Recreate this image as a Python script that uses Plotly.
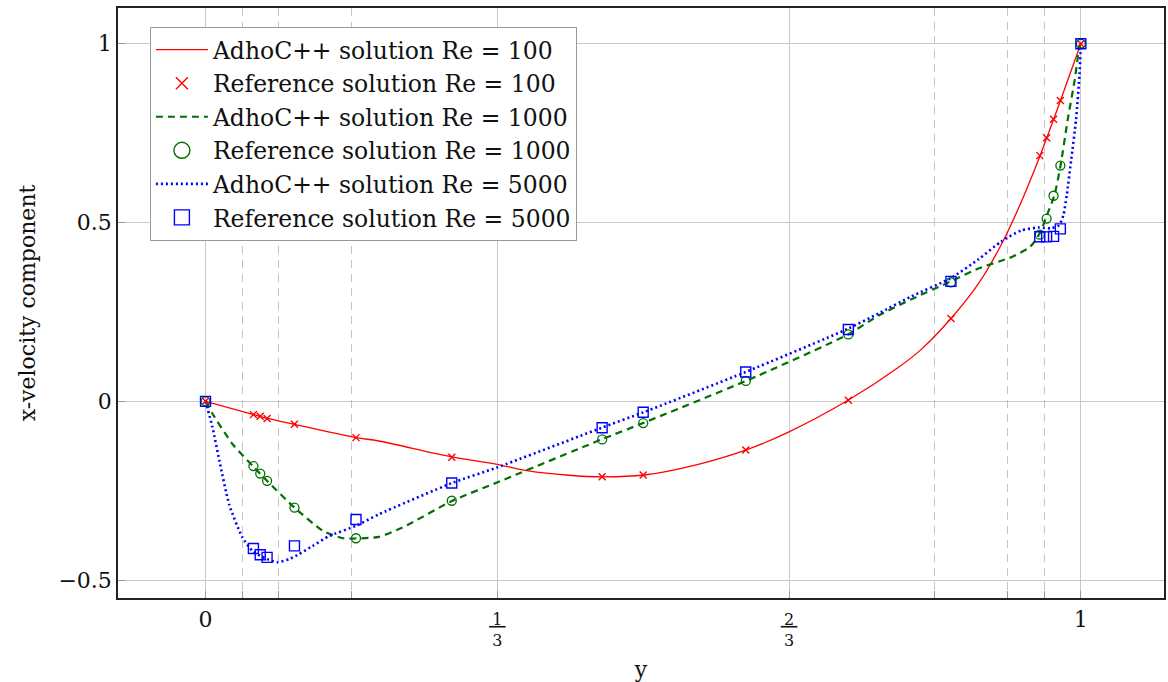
import plotly.graph_objects as go

# ---------------- data ----------------
# Reference solution (Ghia et al.) sample positions along the vertical centre line
y_ref = [0.0, 0.0547, 0.0625, 0.0703, 0.1016, 0.1719, 0.2813, 0.4531, 0.5,
         0.6172, 0.7344, 0.8516, 0.9531, 0.9609, 0.9688, 0.9766, 1.0]
u_ref_100 = [0.0, -0.03717, -0.04192, -0.04775, -0.06434, -0.10150, -0.15662,
             -0.21090, -0.20581, -0.13641, 0.00332, 0.23151, 0.68717, 0.73722,
             0.78871, 0.84123, 1.0]
u_ref_1000 = [0.0, -0.18109, -0.20196, -0.22220, -0.29730, -0.38289, -0.27805,
              -0.10648, -0.06080, 0.05702, 0.18719, 0.33304, 0.46604, 0.51117,
              0.57492, 0.65928, 1.0]
u_ref_5000 = [0.0, -0.41165, -0.42901, -0.43643, -0.40435, -0.33050, -0.22855,
              -0.07404, -0.03039, 0.08183, 0.20087, 0.33556, 0.46036, 0.45992,
              0.46120, 0.48223, 1.0]

# AdhoC++ solutions
sim_x_100 = [0, 0.054, 0.071, 0.1015, 0.172, 0.198, 0.282, 0.333, 0.369, 0.415,
             0.453, 0.501, 0.563, 0.617, 0.666, 0.734, 0.791, 0.818, 0.8516,
             0.883, 0.909, 0.930, 0.9531, 0.9609, 0.9688, 0.9766, 0.987, 1.0]
sim_u_100 = [0, -0.0363, -0.0475, -0.0642, -0.1014, -0.1109, -0.1556, -0.176,
             -0.1947, -0.2067, -0.211, -0.206, -0.176, -0.1365, -0.086, 0.003,
             0.094, 0.146, 0.2315, 0.329, 0.438, 0.547, 0.685, 0.736, 0.788,
             0.840, 0.912, 1.0]

sim_x_1000 = [0, 0.0083, 0.031, 0.054, 0.071, 0.1015, 0.134, 0.157, 0.172, 0.198,
              0.225, 0.282, 0.333, 0.453, 0.501, 0.617, 0.734, 0.769, 0.806,
              0.850, 0.883, 0.921, 0.941, 0.949, 0.955, 0.960, 0.970, 0.977,
              0.985, 0.993, 0.9985, 1.0]
sim_u_1000 = [0, -0.036, -0.120, -0.181, -0.224, -0.297, -0.362, -0.383, -0.3835,
              -0.379, -0.353, -0.278, -0.227, -0.106, -0.0595, 0.0567, 0.187,
              0.240, 0.285, 0.334, 0.3715, 0.4036, 0.430, 0.4525, 0.480, 0.5126,
              0.578, 0.662, 0.788, 0.899, 0.992, 1.0]

sim_x_5000 = [0, 0.008, 0.016, 0.027, 0.042, 0.054, 0.070, 0.082, 0.096, 0.107,
              0.122, 0.141, 0.172, 0.198, 0.282, 0.333, 0.453, 0.501, 0.617,
              0.734, 0.769, 0.806, 0.851, 0.883, 0.909, 0.932, 0.951, 0.966,
              0.975, 0.980, 0.984, 0.989, 0.9945, 0.9985, 1.0]
sim_u_5000 = [0, -0.073, -0.168, -0.288, -0.380, -0.419, -0.441, -0.450, -0.441,
              -0.427, -0.405, -0.377, -0.348, -0.316, -0.228, -0.185, -0.0735,
              -0.030, 0.082, 0.203, 0.246, 0.293, 0.344, 0.397, 0.447, 0.478,
              0.486, 0.484, 0.492, 0.520, 0.578, 0.676, 0.788, 0.915, 1.0]

x_tick_vals = [0, 1/3, 2/3, 1]
x_tick_text = ["", "<u>\u20091\u2009</u><br>3", "<u>\u20092\u2009</u><br>3", ""]
x_int_tick_vals = [0, 1]
x_int_tick_text = ["0", "1"]
x_minor_vals = [1/24, 1/12, 1/6, 5/6, 11/12, 23/24]
y_tick_vals = [-0.5, 0, 0.5, 1]
y_tick_text = ["\u22120.5", "0", "0.5", "1"]

labels = ["AdhoC++ solution Re = 100", "Reference solution Re = 100",
          "AdhoC++ solution Re = 1000", "Reference solution Re = 1000",
          "AdhoC++ solution Re = 5000", "Reference solution Re = 5000"]

RED = "#ff0000"
GREEN = "#007000"
BLUE = "#0000ff"
FONT = "DejaVu Serif"
XR = [-0.1, 1.095]

fig = go.Figure()

# curves
fig.add_trace(go.Scatter(x=sim_x_100, y=sim_u_100, mode="lines",
                         line=dict(color=RED, width=1.3, shape="spline", smoothing=1.0),
                         showlegend=False))
fig.add_trace(go.Scatter(x=sim_x_1000, y=sim_u_1000, mode="lines",
                         line=dict(color=GREEN, width=2.2, dash="7px,5px", shape="spline", smoothing=0.6),
                         showlegend=False))
fig.add_trace(go.Scatter(x=sim_x_5000, y=sim_u_5000, mode="lines",
                         line=dict(color=BLUE, width=2.6, dash="2px,3px", shape="spline", smoothing=0.6),
                         showlegend=False))
# reference markers
fig.add_trace(go.Scatter(x=y_ref, y=u_ref_100, mode="markers",
                         marker=dict(symbol="x-thin", size=7, color=RED,
                                     line=dict(color=RED, width=1.4)),
                         showlegend=False))
fig.add_trace(go.Scatter(x=y_ref, y=u_ref_1000, mode="markers",
                         marker=dict(symbol="circle-open", size=9, color=GREEN,
                                     line=dict(color=GREEN, width=1.3)),
                         showlegend=False))
fig.add_trace(go.Scatter(x=y_ref, y=u_ref_5000, mode="markers",
                         marker=dict(symbol="square-open", size=10, color=BLUE,
                                     line=dict(color=BLUE, width=1.4)),
                         showlegend=False))
# carrier for the second (integer-label) x axis
fig.add_trace(go.Scatter(x=[None], y=[None], xaxis="x2", yaxis="y",
                         mode="markers", showlegend=False, hoverinfo="skip"))

# legend entries
fig.add_trace(go.Scatter(x=[None], y=[None], mode="lines", name=labels[0],
                         line=dict(color=RED, width=1.3)))
fig.add_trace(go.Scatter(x=[None], y=[None], mode="markers", name=labels[1],
                         marker=dict(symbol="x-thin", size=12, color=RED,
                                     line=dict(color=RED, width=1.4))))
fig.add_trace(go.Scatter(x=[None], y=[None], mode="lines", name=labels[2],
                         line=dict(color=GREEN, width=2.2, dash="7px,5px")))
fig.add_trace(go.Scatter(x=[None], y=[None], mode="markers", name=labels[3],
                         marker=dict(symbol="circle-open", size=16, color=GREEN,
                                     line=dict(color=GREEN, width=1.4))))
fig.add_trace(go.Scatter(x=[None], y=[None], mode="lines", name=labels[4],
                         line=dict(color=BLUE, width=2.6, dash="2px,3px")))
fig.add_trace(go.Scatter(x=[None], y=[None], mode="markers", name=labels[5],
                         marker=dict(symbol="square-open", size=15, color=BLUE,
                                     line=dict(color=BLUE, width=1.4))))

axis_common = dict(showline=True, linecolor="#222", linewidth=1.5, mirror=True,
                   showgrid=True, gridcolor="#c8c8c8", gridwidth=1,
                   ticks="inside", ticklen=7, tickcolor="#999", tickwidth=1,
                   zeroline=False)

fig.update_layout(
    width=1168, height=682,
    margin=dict(l=118, r=2, t=8, b=84),
    paper_bgcolor="white", plot_bgcolor="white",
    font=dict(family=FONT, size=22, color="#111"),
    xaxis=dict(range=XR, tickmode="array", tickvals=x_tick_vals,
               ticktext=x_tick_text, tickfont=dict(size=16),
               ticklabelstandoff=6,
               title=dict(text="y", font=dict(size=22), standoff=13),
               minor=dict(tickmode="array", tickvals=x_minor_vals, showgrid=True,
                          gridcolor="#c4c4c4", griddash="8px,6px", gridwidth=1,
                          ticks="inside", ticklen=7, tickcolor="#999"),
               **axis_common),
    xaxis2=dict(range=XR, overlaying="x", anchor="y", side="bottom",
                tickmode="array", tickvals=x_int_tick_vals, ticktext=x_int_tick_text,
                tickfont=dict(size=22), ticks="", showline=False, showgrid=False,
                zeroline=False, ticklabelstandoff=6),
    yaxis=dict(range=[-0.55, 1.1], tickmode="array", tickvals=y_tick_vals,
               ticktext=y_tick_text, tickfont=dict(size=22),
               title=dict(text="x-velocity component", font=dict(size=22), standoff=17),
               **axis_common),
    legend=dict(x=0.0305, y=0.968, xanchor="left", yanchor="top",
                bgcolor="white", bordercolor="#999", borderwidth=1,
                font=dict(family=FONT, size=23.5), tracegroupgap=0,
                itemwidth=52),
)

fig.write_html("out.html", config={"displayModeBar": False})
